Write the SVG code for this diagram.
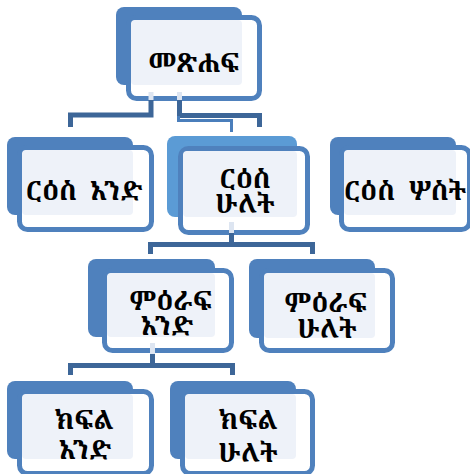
<svg xmlns="http://www.w3.org/2000/svg" width="470" height="474" viewBox="0 0 470 474">
  <style>
    .back { fill: #4F81BD; }
    .back.hl { fill: #5B9BD5; }
    .front { fill: #FFFFFF; stroke: #4F81BD; stroke-width: 5; }
    .pane { fill: #EEF2F9; }
    .t { font-family: "Noto Serif Ethiopic", "Noto Sans Ethiopic", "Abyssinica SIL", "DejaVu Sans", serif; font-size: 26px; font-weight: bold; fill: #000; text-anchor: middle; dominant-baseline: central; }
    .link { fill: none; stroke: #3D6698; stroke-width: 5; stroke-linejoin: miter; }
    .link.thin { stroke: #4A7EBB; stroke-width: 3; }
    .stub { stroke: #DDE5F1; stroke-width: 5; }
  </style>
  <rect width="470" height="474" fill="#FFFFFF"/>

  <!-- root -->
  <g id="node-book">
    <rect class="back" x="116" y="7" width="126" height="78" rx="8"/>
    <rect class="front" x="128.5" y="17.5" width="131" height="81" rx="8"/>
    <rect class="pane" x="131" y="20" width="111" height="65" rx="4"/>
    <text class="t" x="194" y="62">መጽሐፍ</text>
  </g>

  <!-- chapters (level 1) -->
  <g id="node-heading-1">
    <rect class="back" x="7" y="137" width="126" height="78" rx="8"/>
    <rect class="front" x="19.5" y="147.5" width="132" height="82" rx="8"/>
    <rect class="pane" x="22" y="150" width="111" height="65" rx="4"/>
    <text class="t" x="84" y="190">ርዕስ&#160; አንድ</text>
  </g>

  <g id="node-heading-2">
    <rect class="back hl" x="167" y="136" width="130" height="81" rx="8"/>
    <rect class="front" x="180.5" y="148.5" width="127" height="84" rx="8"/>
    <rect class="pane" x="183" y="151" width="114" height="66" rx="4"/>
    <text class="t" x="245" y="178">ርዕስ</text>
    <text class="t" x="245" y="203">ሁለት</text>
  </g>

  <g id="node-heading-3">
    <rect class="back" x="330" y="137" width="126" height="78" rx="8"/>
    <rect class="front" x="341.5" y="147.5" width="128" height="82" rx="8"/>
    <rect class="pane" x="344" y="150" width="112" height="65" rx="4"/>
    <text class="t" x="405" y="190">ርዕስ&#160; ሦስት</text>
  </g>

  <!-- sections (level 2) -->
  <g id="node-chapter-1">
    <rect class="back" x="88" y="259" width="127" height="78" rx="8"/>
    <rect class="front" x="104.5" y="270.5" width="127" height="80" rx="8"/>
    <rect class="pane" x="107" y="273" width="108" height="64" rx="4"/>
    <text class="t" x="171" y="300">ምዕራፍ</text>
    <text class="t" x="167" y="325">አንድ</text>
  </g>

  <g id="node-chapter-2">
    <rect class="back" x="249" y="259" width="126" height="79" rx="8"/>
    <rect class="front" x="261.5" y="270.5" width="131" height="80" rx="8"/>
    <rect class="pane" x="264" y="273" width="111" height="65" rx="4"/>
    <text class="t" x="326" y="302">ምዕራፍ</text>
    <text class="t" x="327" y="328">ሁለት</text>
  </g>

  <!-- parts (level 3) -->
  <g id="node-part-1">
    <rect class="back" x="7" y="381" width="126" height="78" rx="8"/>
    <rect class="front" x="19.5" y="391.5" width="132" height="82" rx="8"/>
    <rect class="pane" x="22" y="394" width="111" height="65" rx="4"/>
    <text class="t" x="84" y="419">ክፍል</text>
    <text class="t" x="85" y="449">አንድ</text>
  </g>

  <g id="node-part-2">
    <rect class="back" x="170" y="381" width="126" height="78" rx="8"/>
    <rect class="front" x="182.5" y="391.5" width="130" height="82" rx="8"/>
    <rect class="pane" x="185" y="394" width="111" height="65" rx="4"/>
    <text class="t" x="248" y="419">ክፍል</text>
    <text class="t" x="248" y="452">ሁለት</text>
  </g>

  <!-- connectors -->
  <g id="connectors">
    <path class="link" d="M151 100 V115 H70.5 V127"/>
    <path class="link" d="M179.5 100 V115.5 H259.5 V127"/>
    <path class="link thin" d="M178.5 116 V120.5 H231.5 V132"/>
    <line class="stub" x1="151" y1="92" x2="151" y2="100"/>
    <line class="stub" x1="179.5" y1="92" x2="179.5" y2="100"/>

    <path class="link" d="M231.5 232 V244.5"/>
    <path class="link" d="M150.5 254 V244.5 H312.5 V254"/>
    <line class="stub" x1="231.5" y1="222" x2="231.5" y2="233"/>

    <path class="link" d="M152.5 353 V365.5"/>
    <path class="link" d="M70.5 375 V365.5 H232.5 V375"/>
    <line class="stub" x1="152.5" y1="343" x2="152.5" y2="354"/>
  </g>
</svg>
